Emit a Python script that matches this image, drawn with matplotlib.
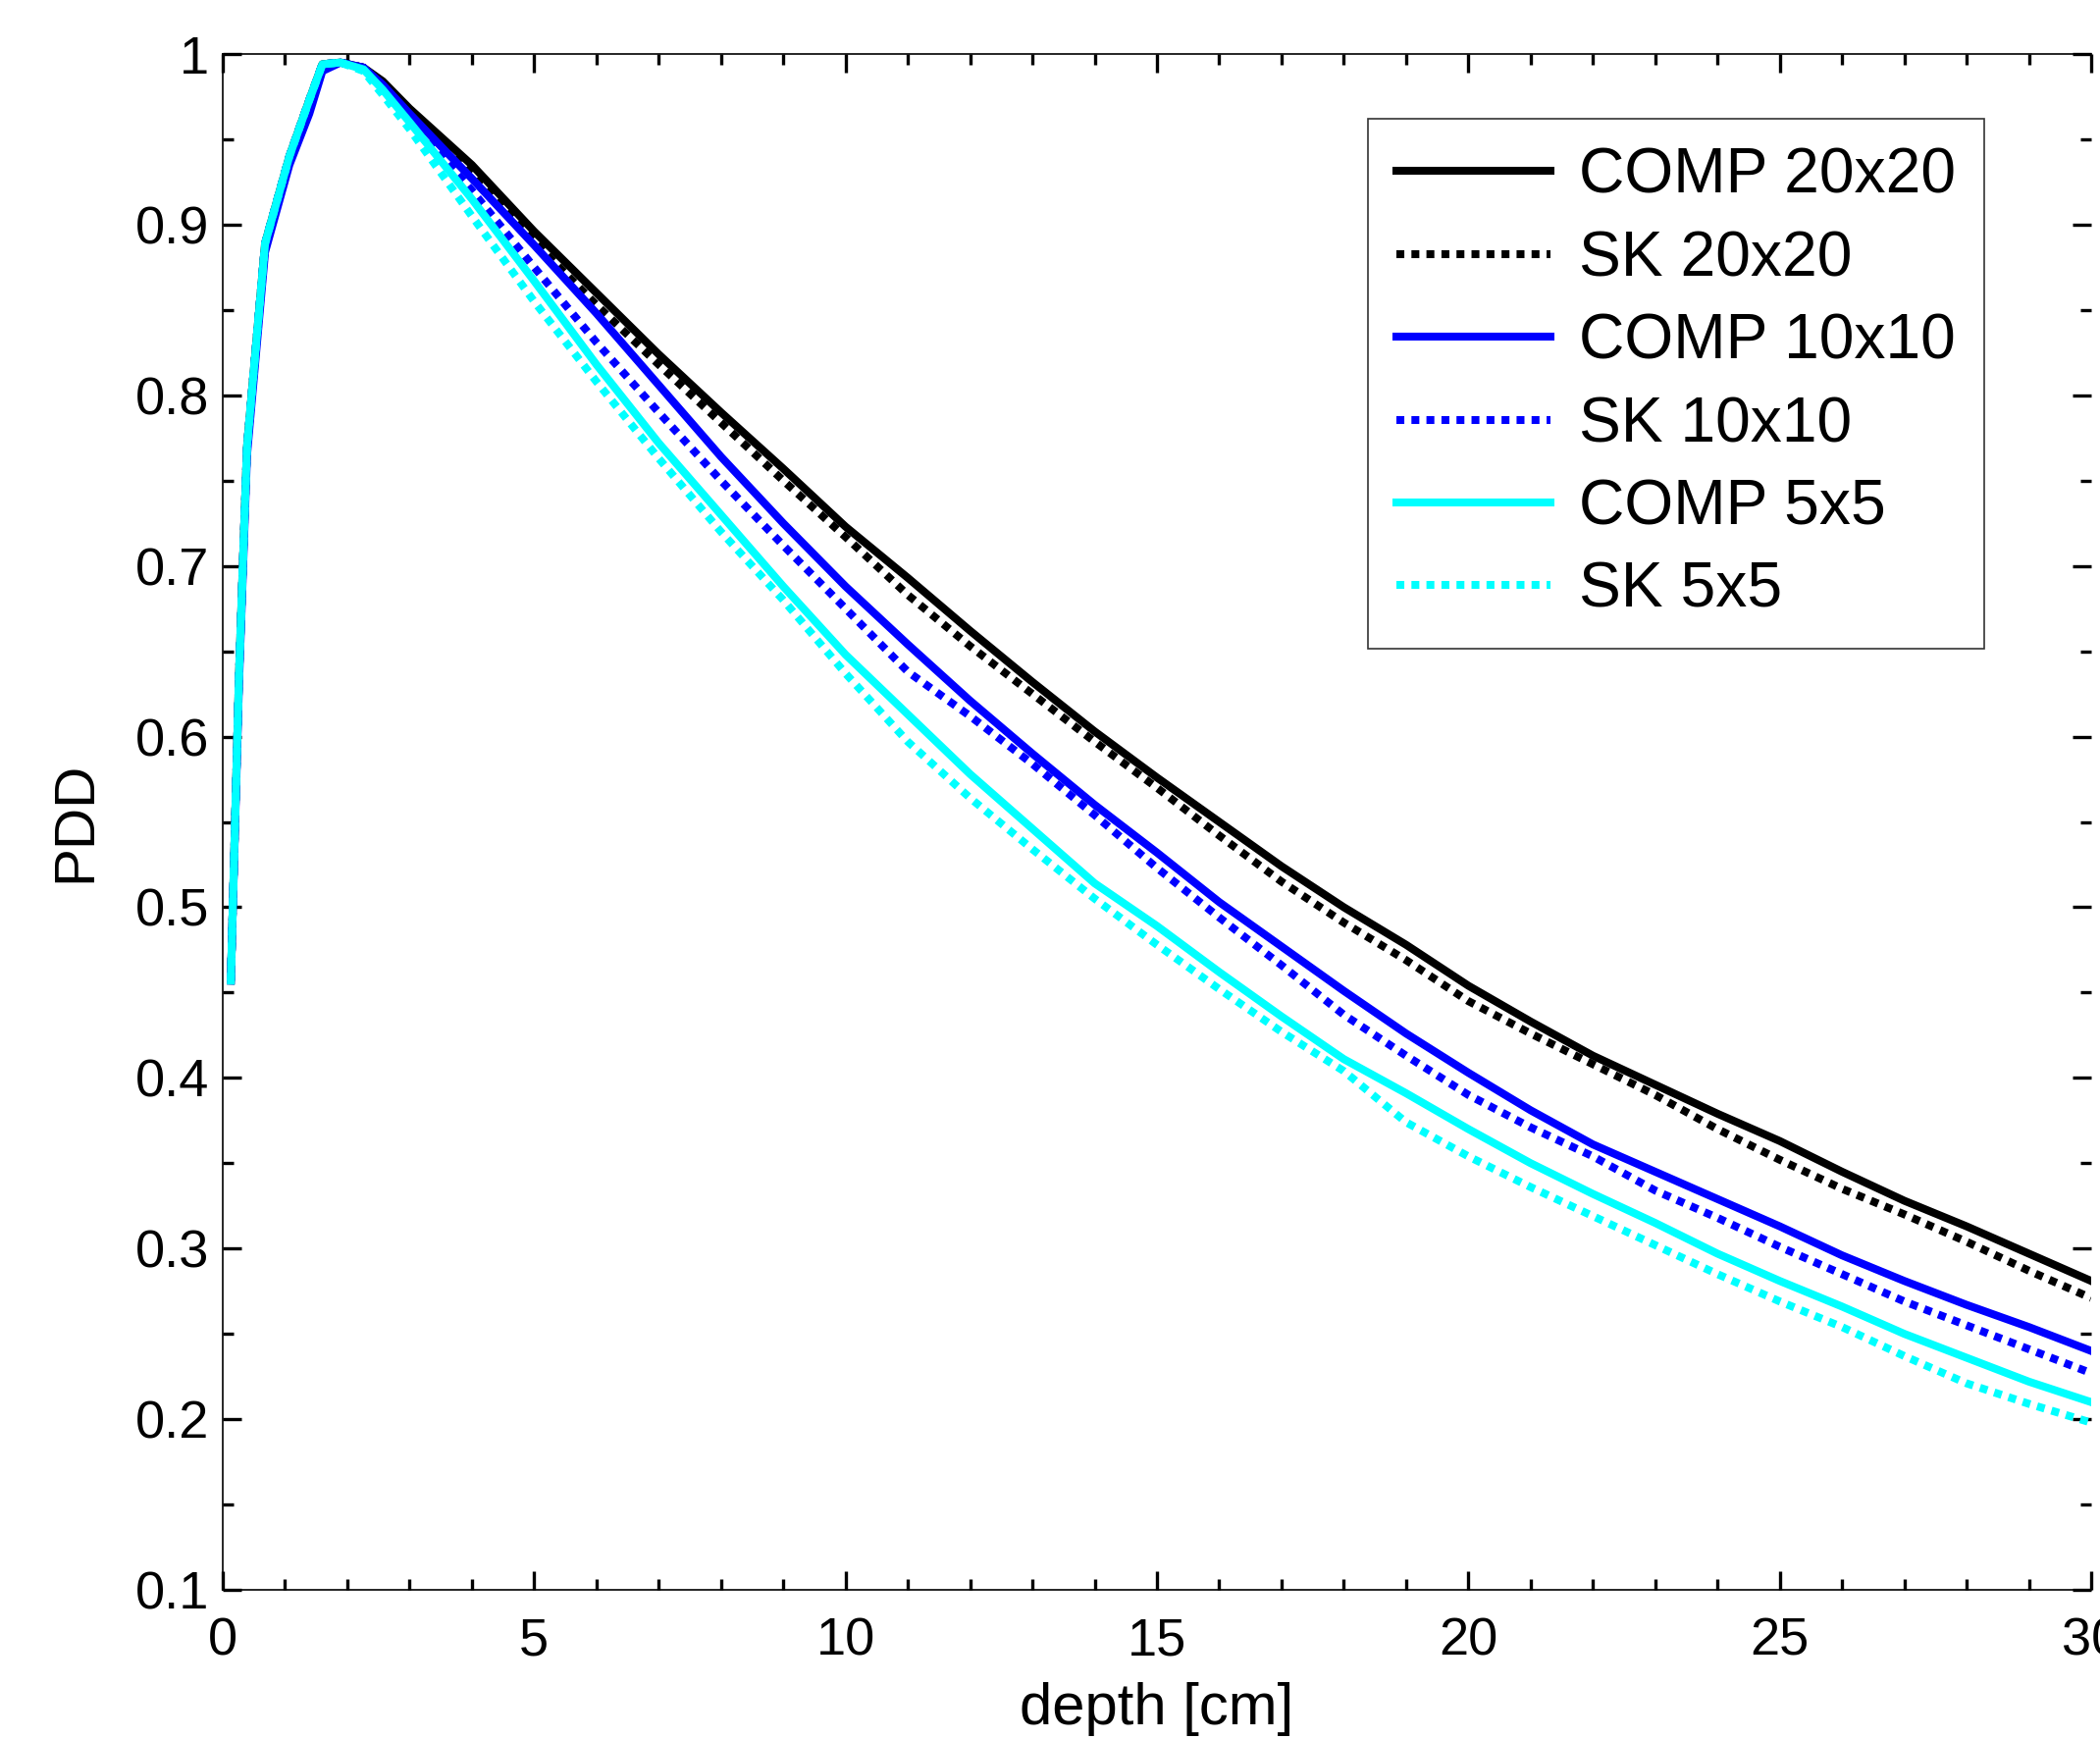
import numpy as np
import matplotlib.pyplot as plt

depth = [0.13, 0.26, 0.39, 0.68, 1.07, 1.39, 1.6, 1.89, 2.26, 2.57,
         3, 4, 5, 6, 7, 8, 9, 10, 11, 12, 13, 14, 15, 16, 17, 18, 19, 20,
         21, 22, 23, 24, 25, 26, 27, 28, 29, 30]

comp_20x20 = [0.457, 0.635, 0.770, 0.889, 0.940, 0.973, 0.994, 0.995, 0.992, 0.984,
              0.968, 0.935, 0.896, 0.860, 0.824, 0.790, 0.757, 0.723, 0.693, 0.662,
              0.632, 0.603, 0.576, 0.550, 0.524, 0.500, 0.478, 0.454, 0.433, 0.413,
              0.396, 0.379, 0.363, 0.345, 0.328, 0.313, 0.297, 0.281]
sk_20x20 = [0.457, 0.635, 0.770, 0.889, 0.940, 0.973, 0.994, 0.995, 0.992, 0.983,
            0.966, 0.930, 0.890, 0.853, 0.818, 0.784, 0.750, 0.717, 0.683, 0.653,
            0.625, 0.597, 0.570, 0.542, 0.515, 0.491, 0.469, 0.445, 0.426, 0.408,
            0.390, 0.370, 0.352, 0.335, 0.320, 0.304, 0.287, 0.271]
comp_10x10 = [0.457, 0.630, 0.765, 0.884, 0.935, 0.965, 0.990, 0.995, 0.992, 0.982,
              0.965, 0.927, 0.888, 0.848, 0.806, 0.764, 0.725, 0.688, 0.654, 0.621,
              0.590, 0.560, 0.532, 0.503, 0.477, 0.451, 0.426, 0.403, 0.381, 0.361,
              0.345, 0.329, 0.313, 0.296, 0.281, 0.267, 0.254, 0.240]
sk_10x10 = [0.457, 0.635, 0.770, 0.889, 0.940, 0.973, 0.994, 0.995, 0.992, 0.981,
            0.962, 0.920, 0.875, 0.831, 0.790, 0.750, 0.712, 0.675, 0.638, 0.612,
            0.584, 0.554, 0.523, 0.494, 0.466, 0.437, 0.413, 0.390, 0.371, 0.354,
            0.334, 0.318, 0.301, 0.285, 0.269, 0.255, 0.241, 0.227]
comp_5x5 = [0.457, 0.635, 0.770, 0.889, 0.940, 0.973, 0.994, 0.995, 0.991, 0.979,
            0.960, 0.915, 0.867, 0.818, 0.772, 0.730, 0.688, 0.648, 0.613, 0.578,
            0.546, 0.514, 0.489, 0.462, 0.436, 0.411, 0.391, 0.370, 0.350, 0.332,
            0.315, 0.297, 0.281, 0.266, 0.250, 0.236, 0.222, 0.210]
sk_5x5 = [0.457, 0.635, 0.770, 0.889, 0.940, 0.973, 0.994, 0.995, 0.990, 0.976,
          0.956, 0.905, 0.855, 0.808, 0.763, 0.720, 0.680, 0.637, 0.597, 0.564,
          0.534, 0.505, 0.478, 0.452, 0.427, 0.404, 0.374, 0.354, 0.336, 0.319,
          0.302, 0.285, 0.269, 0.254, 0.237, 0.221, 0.209, 0.198]

x_ticks = [0, 5, 10, 15, 20, 25, 30]
y_ticks = [0.1, 0.2, 0.3, 0.4, 0.5, 0.6, 0.7, 0.8, 0.9, 1.0]
y_tick_labels = ['0.1', '0.2', '0.3', '0.4', '0.5', '0.6', '0.7', '0.8', '0.9', '1']

plt.rcParams['font.family'] = ['Liberation Sans', 'DejaVu Sans']

fig = plt.figure(figsize=(21.4, 17.72), dpi=100)
ax = fig.add_axes([0.10607, 0.08578, 0.88972, 0.88318])

lw = 5.8
dots = (0, (1.0, 0.9))
ax.plot(depth, comp_20x20, color='black', lw=lw, label='COMP 20x20')
ax.plot(depth, sk_20x20, color='black', lw=lw, ls=dots, dash_capstyle='butt', label='SK 20x20')
ax.plot(depth, comp_10x10, color='blue', lw=lw, label='COMP 10x10')
ax.plot(depth, sk_10x10, color='blue', lw=lw, ls=dots, dash_capstyle='butt', label='SK 10x10')
ax.plot(depth, comp_5x5, color='cyan', lw=lw, label='COMP 5x5')
ax.plot(depth, sk_5x5, color='cyan', lw=lw, ls=dots, dash_capstyle='butt', label='SK 5x5')

ax.set_xlim(0, 30)
ax.set_ylim(0.1, 1.0)
ax.set_xticks(x_ticks)
ax.set_xticks(np.arange(0, 31, 1), minor=True)
ax.set_yticks(y_ticks)
ax.set_yticklabels(y_tick_labels)
ax.set_yticks(np.arange(0.1, 1.001, 0.05), minor=True)

ax.tick_params(which='both', direction='in', top=True, right=True, width=2.4)
ax.tick_params(which='major', length=14, labelsize=39)
ax.tick_params(axis='x', which='major', pad=20)
ax.tick_params(axis='y', which='major', pad=10)
ax.tick_params(which='minor', length=8)
ax.spines['right'].set_visible(False)
for side in ['left', 'bottom', 'top']:
    ax.spines[side].set_linewidth(1.2)

ax.set_xlabel('depth [cm]', fontsize=43, labelpad=12)
ax.set_ylabel('PDD', fontsize=42, labelpad=24)

leg = ax.legend(loc='upper left', bbox_to_anchor=(0.6514, 0.9317),
                bbox_transform=fig.transFigure, fontsize=46.2, frameon=True,
                fancybox=False, edgecolor='black', borderpad=0.45,
                labelspacing=0.38, handlelength=2.45, handletextpad=0.45,
                borderaxespad=0)
leg.get_frame().set_linewidth(1.2)

fig.savefig('out.png', dpi=100, facecolor='white')
